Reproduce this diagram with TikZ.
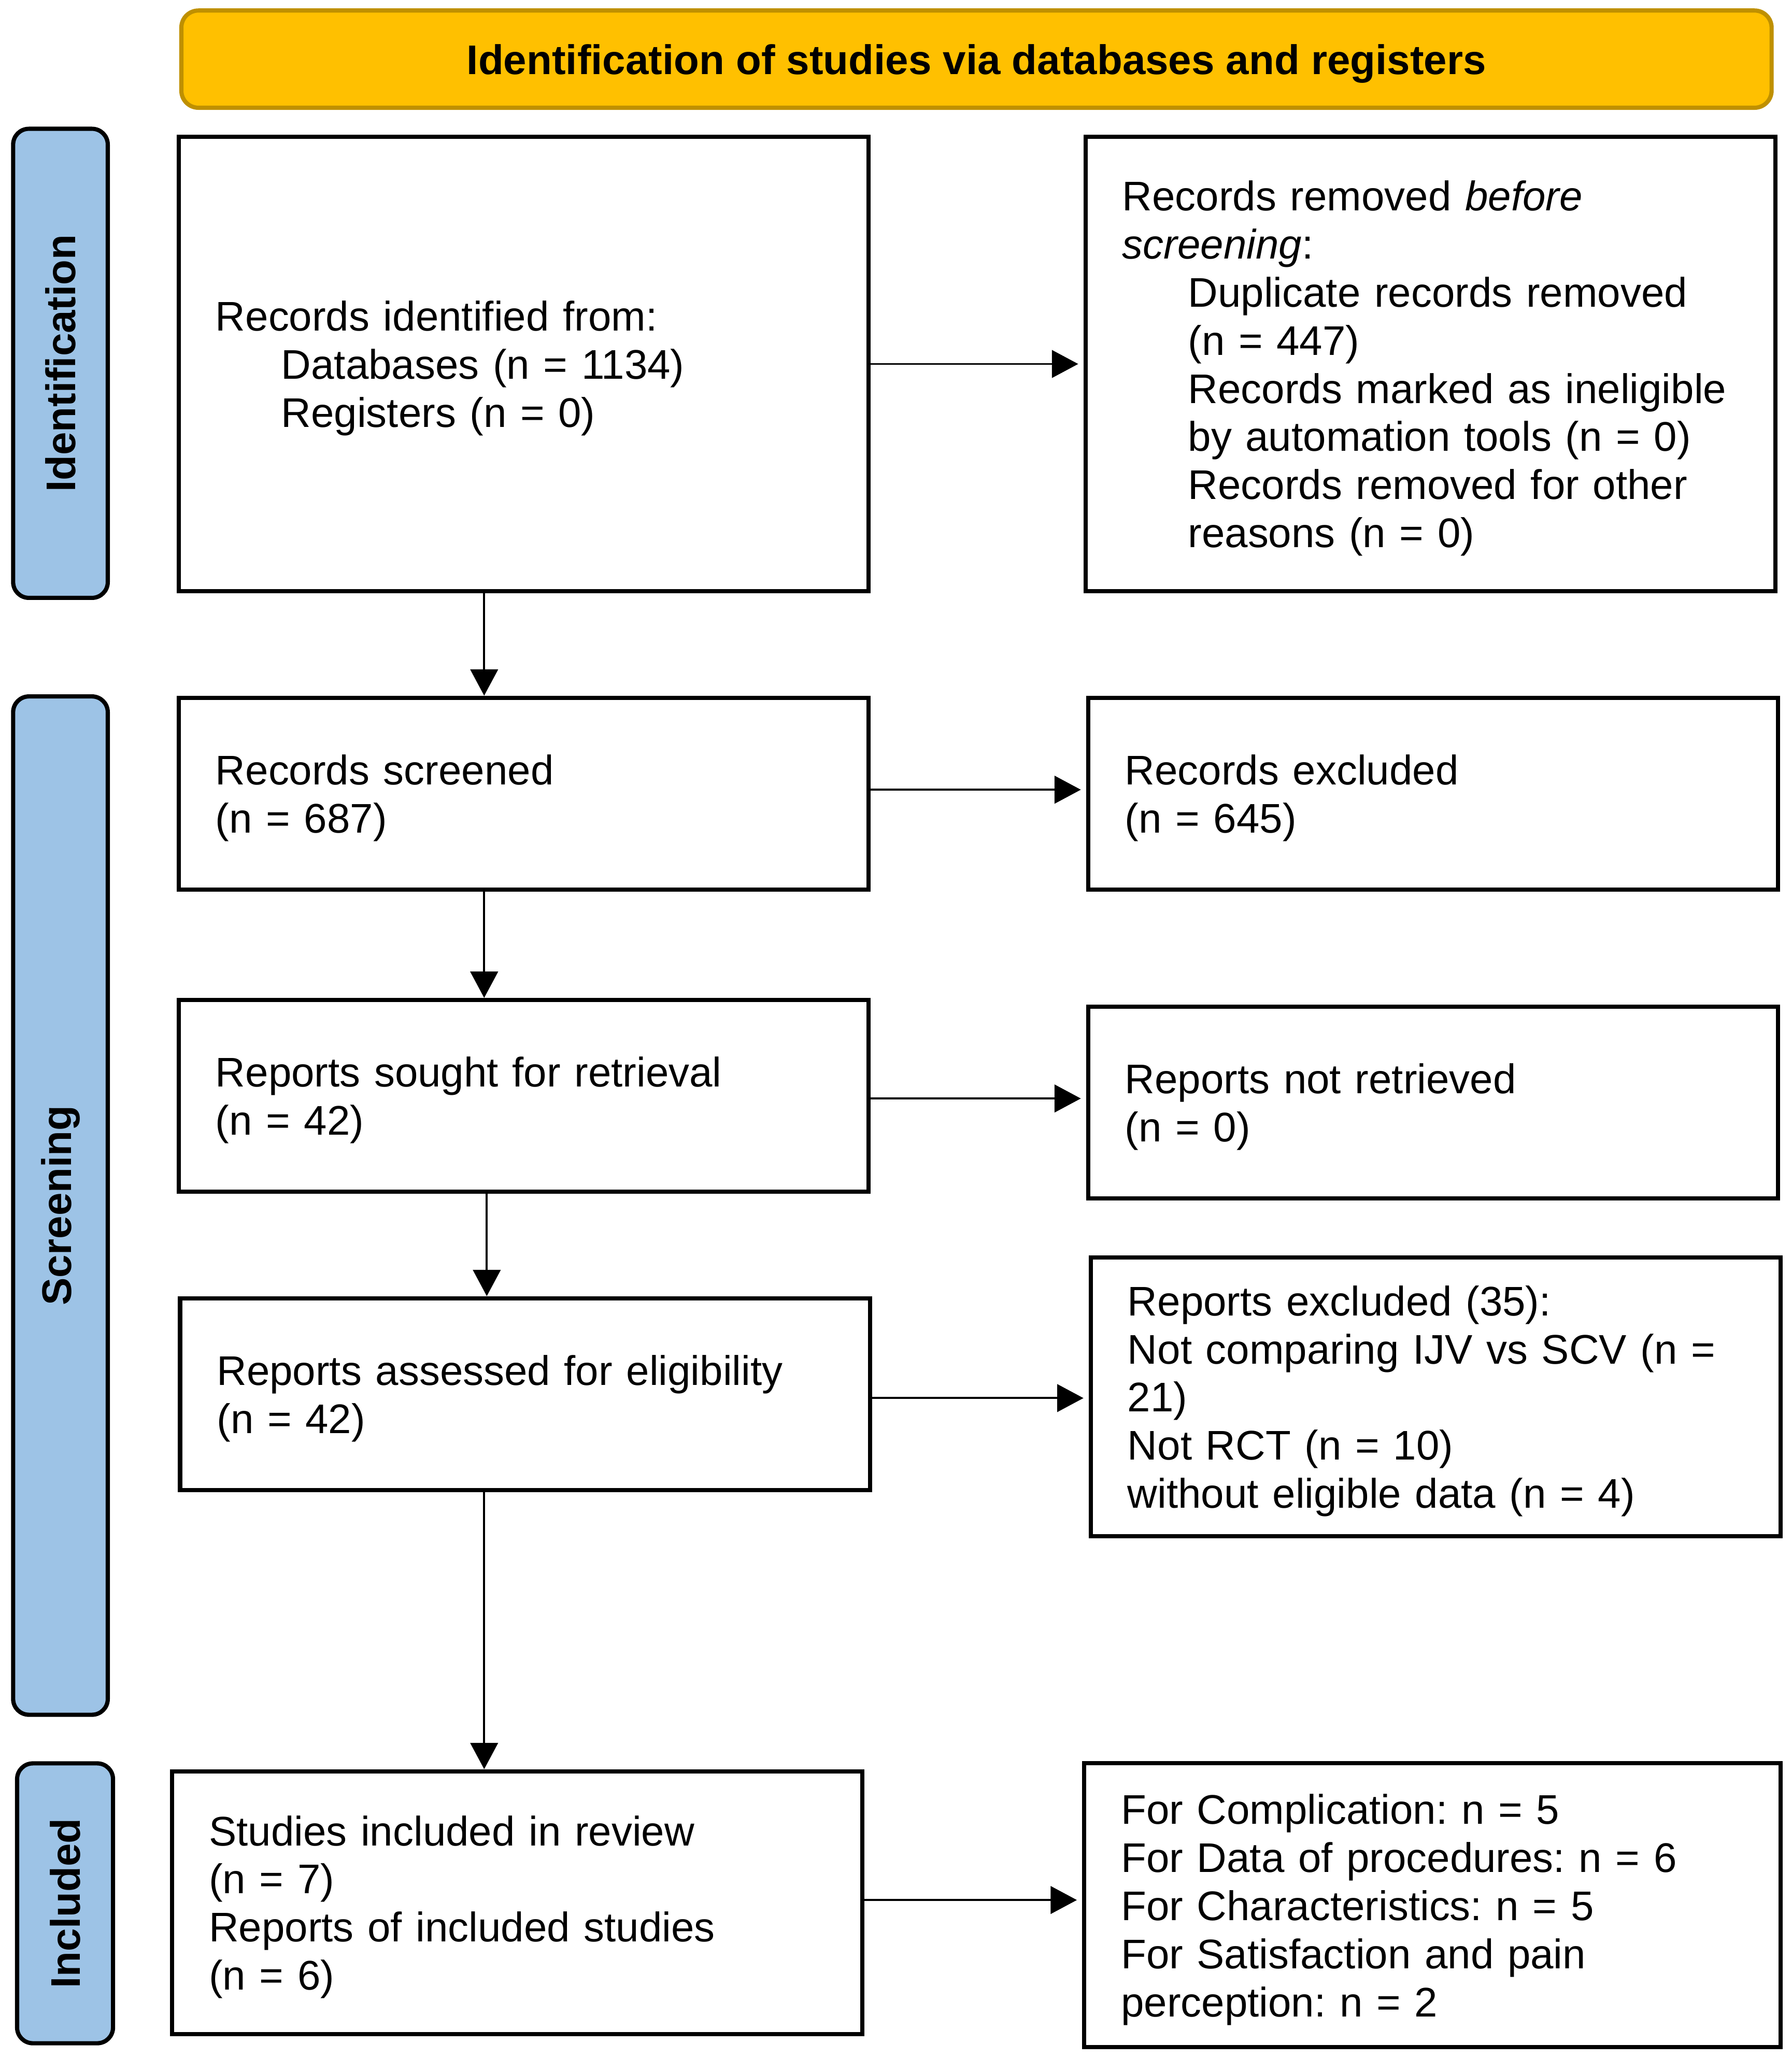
\documentclass[tikz,border=0pt]{standalone}
\usepackage{fontspec}
\setmainfont{Liberation Sans}
\usetikzlibrary{arrows.meta}
\definecolor{hdrfill}{HTML}{FFC000}
\definecolor{hdrdraw}{HTML}{BF9000}
\definecolor{sidefill}{HTML}{9DC3E6}
\newcommand{\topstrut}{\rule{0pt}{29.5pt}}
\begin{document}
\frenchspacing
\begin{tikzpicture}[x=1pt,y=-1pt,
  every node/.style={font=\fontsize{31.5}{36.6}\selectfont},
  flowbox/.style={draw=black,line width=3.2pt,fill=white,rectangle,inner sep=0pt,
    align=left,minimum height=#1},
  wbox/.style={minimum width=525pt,text width=469pt},
  header/.style={draw=hdrdraw,fill=hdrfill,line width=3.2pt,rounded corners=13pt,
    minimum width=1210pt,minimum height=74pt,inner sep=0pt,text depth=0pt,
    font=\fontsize{31.5}{36.6}\selectfont\bfseries},
  sidelabel/.style={draw=black,fill=sidefill,line width=3.2pt,rounded corners=12pt,
    inner sep=0pt,font=\fontsize{31.5}{36.6}\selectfont\bfseries},
  arr/.style={line width=1.5pt,-{Triangle[length=20pt,width=21pt]}},
  harr/.style={arr,shorten >=4pt}]
\useasboundingbox (0,0) rectangle (1363.2,1567);

\node[header] (hdr) at (743,45) {Identification of studies via databases and registers};

\node[sidelabel,minimum width=72pt,minimum height=357pt] (sid) at (46,276.5) {};
\node[rotate=90,font=\fontsize{31.5}{36.6}\selectfont\bfseries] (sidt) at (sid.center) {Identification};
\node[sidelabel,minimum width=72pt,minimum height=775pt] (ssc) at (46,917.5) {};
\node[rotate=90,font=\fontsize{31.5}{36.6}\selectfont\bfseries] (ssct) at (ssc.center) {Screening};
\node[sidelabel,minimum width=73pt,minimum height=213pt] (sin) at (49.5,1448.5) {};
\node[rotate=90,font=\fontsize{31.5}{36.6}\selectfont\bfseries] (sint) at (sin.center) {Included};

\node[flowbox=346pt,wbox] (b1) at (398.5,277) {\topstrut Records identified from:\\
\hspace*{50pt}Databases (n = 1134)\\
\hspace*{50pt}Registers (n = 0)};

\node[flowbox=346pt,wbox] (b2) at (1088.5,277) {\topstrut Records removed \emph{before}\\
\emph{screening}:\\
\hspace*{50pt}Duplicate records removed\\
\hspace*{50pt}(n = 447)\\
\hspace*{50pt}Records marked as ineligible\\
\hspace*{50pt}by automation tools (n = 0)\\
\hspace*{50pt}Records removed for other\\
\hspace*{50pt}reasons (n = 0)};

\node[flowbox=146pt,wbox] (b3) at (398.5,604) {\topstrut Records screened\\(n = 687)};
\node[flowbox=146pt,wbox] (b4) at (1090.5,604) {\topstrut Records excluded\\(n = 645)};
\node[flowbox=146pt,wbox] (b5) at (398.5,834) {\topstrut Reports sought for retrieval\\(n = 42)};
\node[flowbox=146pt,wbox] (b6) at (1090.5,839) {\topstrut Reports not retrieved\\(n = 0)};
\node[flowbox=146pt,wbox] (b7) at (399.5,1061) {\topstrut Reports assessed for eligibility\\(n = 42)};
\node[flowbox=212pt,wbox] (b8) at (1092.5,1063) {\topstrut Reports excluded (35):\\
Not comparing IJV vs SCV (n =\\
21)\\
Not RCT (n = 10)\\
without eligible data (n = 4)};
\node[flowbox=200pt,wbox] (b9) at (393.5,1448) {\topstrut Studies included in review\\
(n = 7)\\
Reports of included studies\\
(n = 6)};
\node[flowbox=216pt,minimum width=530pt,text width=474pt] (b10) at (1090,1450) {\topstrut For Complication: n = 5\\
For Data of procedures: n = 6\\
For Characteristics: n = 5\\
For Satisfaction and pain\\
perception: n = 2};

% horizontal arrows
\draw[harr] (b1.east) -- (b1.east -| b2.west);
\draw[harr] ([yshift=3pt]b3.east) -- ([yshift=3pt]b3.east -| b4.west);
\draw[harr] ([yshift=-2pt]b5.east) -- ([yshift=-2pt]b5.east -| b6.west);
\draw[harr] ([yshift=-3pt]b7.east) -- ([yshift=-3pt]b7.east -| b8.west);
\draw[harr] ([yshift=2pt]b9.east) -- ([yshift=2pt]b9.east -| b10.west);

% vertical arrows
\coordinate (c13) at ([xshift=234pt]b1.south west);
\draw[arr] (c13) -- (c13 |- b3.north);
\coordinate (c35) at ([xshift=234pt]b3.south west);
\draw[arr] (c35) -- (c35 |- b5.north);
\coordinate (c57) at ([xshift=236pt]b5.south west);
\draw[arr] (c57) -- (c57 |- b7.north);
\coordinate (c79) at ([xshift=233pt]b7.south west);
\draw[arr] (c79) -- (c79 |- b9.north);
\end{tikzpicture}
\end{document}
